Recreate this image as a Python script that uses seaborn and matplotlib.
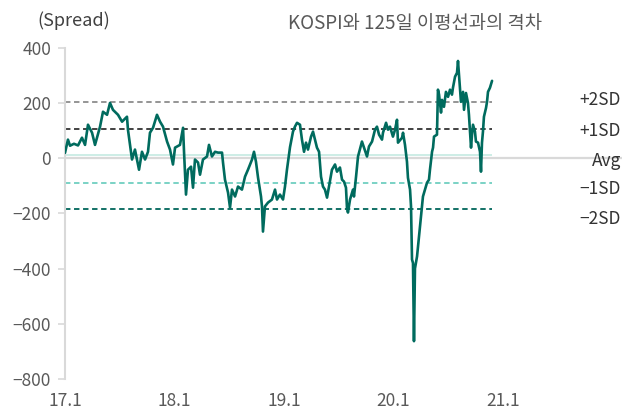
import matplotlib
matplotlib.use("Agg")
import matplotlib.pyplot as plt
import matplotlib.transforms as mtransforms
import seaborn as sns

sns.set_style("white")
plt.rcParams["font.family"] = ["Noto Sans CJK KR", "DejaVu Sans"]
plt.rcParams["axes.unicode_minus"] = True

# ---- data (decimal years, spread values) ----
years = [
    2017.000, 2017.027, 2017.046, 2017.082, 2017.119, 2017.155, 2017.183, 2017.210, 2017.247, 2017.274,
    2017.320, 2017.347, 2017.384, 2017.411, 2017.438, 2017.484, 2017.521, 2017.566, 2017.575, 2017.612,
    2017.639, 2017.676, 2017.703, 2017.731, 2017.758, 2017.776, 2017.804, 2017.840, 2017.868, 2017.895,
    2017.932, 2017.959, 2017.986,
    2018.005, 2018.050, 2018.078, 2018.087, 2018.105, 2018.123, 2018.151, 2018.169, 2018.187, 2018.215,
    2018.233, 2018.260, 2018.297, 2018.315, 2018.342, 2018.370, 2018.397, 2018.434, 2018.443, 2018.461,
    2018.489, 2018.507, 2018.525, 2018.553, 2018.580, 2018.616, 2018.644, 2018.671, 2018.708, 2018.726,
    2018.744, 2018.763, 2018.790, 2018.799, 2018.808, 2018.826, 2018.854, 2018.890, 2018.918, 2018.936,
    2018.963, 2018.991,
    2019.009, 2019.027, 2019.055, 2019.082, 2019.100, 2019.119, 2019.146, 2019.164, 2019.183, 2019.201,
    2019.219, 2019.247, 2019.265, 2019.283, 2019.301, 2019.320, 2019.338, 2019.356, 2019.374, 2019.393,
    2019.411, 2019.438, 2019.466, 2019.484, 2019.511, 2019.530, 2019.548, 2019.566, 2019.575, 2019.584,
    2019.603, 2019.630, 2019.639, 2019.658, 2019.676, 2019.712, 2019.731, 2019.758, 2019.776, 2019.804,
    2019.831, 2019.849, 2019.868, 2019.895, 2019.904, 2019.932, 2019.950, 2019.968, 2019.995,
    2020.014, 2020.032, 2020.041, 2020.078, 2020.087, 2020.105, 2020.123, 2020.132, 2020.151, 2020.160,
    2020.169, 2020.178, 2020.187, 2020.196, 2020.215, 2020.233, 2020.251, 2020.260, 2020.269, 2020.288,
    2020.306, 2020.324, 2020.333, 2020.352, 2020.361, 2020.370, 2020.397, 2020.406, 2020.416, 2020.434,
    2020.443, 2020.461, 2020.479, 2020.498, 2020.516, 2020.534, 2020.543, 2020.562, 2020.580, 2020.589,
    2020.598, 2020.616, 2020.635, 2020.644, 2020.662, 2020.680, 2020.689, 2020.708, 2020.717, 2020.726,
    2020.744, 2020.753, 2020.772, 2020.790, 2020.799, 2020.808, 2020.817, 2020.826, 2020.845, 2020.854,
    2020.863, 2020.881, 2020.900,
]
spread = [
    19, 67, 45, 52, 46, 74, 48, 121, 92, 48,
    114, 168, 157, 200, 175, 157, 132, 150, 103, -5,
    31, -42, 23, -5, 23, 92, 110, 157, 132, 114,
    60, 31, -23,
    38, 48, 110, 23, -132, -42, -31, -107, -5, -16,
    -60, -5, 6, 48, 6, 23, 20, 20, -16, -78,
    -125, -179, -114, -139, -103, -114, -67, -42, -5, 23,
    -13, -71, -139, -175, -266, -175, -161, -150, -114, -150,
    -132, -150,
    -103, -42, 40, 96, 114, 128, 121, 67, 23, 56,
    31, 78, 96, 67, 38, 23, -67, -103, -114, -143,
    -103, -42, -23, -49, -34, -78, -85, -107, -179, -197,
    -150, -114, -139, -67, 6, 60, 38, 6, 42, 60,
    103, 114, 85, 67, 92, 128, 103, 114, 78,
    103, 139, 56, 74, 92, 48, -13, -71, -114, -175,
    -367, -380, -663, -400, -356, -284, -211, -175, -139, -114,
    -89, -78, -42, 23, 38, 78, 85, 248, 230, 165,
    211, 186, 240, 222, 248, 230, 255, 295, 309, 352,
    302, 204, 240, 175, 236, 200, 157, 38, 85, 121,
    96, 60, 56, 23, -49, 56, 96, 150, 182, 204,
    240, 255, 280,
]

band_names = ["+2SD", "+1SD", "Avg", "\u22121SD", "\u22122SD"]
band_values = [205, 105, 12, -89, -183]

x_ticks = [2017, 2018, 2019, 2020, 2021]
x_tick_labels = ["17.1", "18.1", "19.1", "20.1", "21.1"]
y_ticks = [-800, -600, -400, -200, 0, 200, 400]

title_text = "KOSPI와 125일 이평선과의 격차"
unit_text = "(Spread)"

# ---- styles ----
line_color = "#006B5E"
band_styles = [
    dict(color="#8C8C8C", ls=(0, (3, 2)), lw=1.3),
    dict(color="#333333", ls=(0, (3, 2)), lw=1.3),
    dict(color="#CDEDE6", ls="-", lw=1.4),
    dict(color="#6FCFC0", ls=(0, (3, 2)), lw=1.3),
    dict(color="#00665A", ls=(0, (3, 2)), lw=1.3),
]
label_offsets_px = [2, -1.5, -6, -6, -10]

fig = plt.figure(figsize=(6.4, 4.11), dpi=100)
ax = fig.add_axes([65 / 640, 1 - 379 / 411, (622 - 65) / 640, (379 - 47.7) / 411])

# zero line
ax.axhline(0, color="#D9D9D9", lw=1.6, zorder=1)

# bands
for val, st in zip(band_values, band_styles):
    ax.hlines(val, years[0], years[-1], colors=st["color"], linestyles=st["ls"],
              linewidth=st["lw"], zorder=2)

sns.lineplot(x=years, y=spread, ax=ax, color=line_color, linewidth=1.9,
             sort=False, estimator=None, zorder=3)

ax.set_xlim(2017.0, 2017.0 + 557 / 109.5)
ax.set_ylim(-800, 400)
ax.set_xticks(x_ticks)
ax.set_xticklabels(x_tick_labels)
ax.set_yticks(y_ticks)
ax.set_xlabel("")
ax.set_ylabel("")

for s in ["top", "right", "bottom"]:
    ax.spines[s].set_visible(False)
ax.spines["left"].set_color("#D9D9D9")
ax.spines["left"].set_linewidth(1.5)

ax.tick_params(axis="y", which="both", left=True, length=5, width=1.2, color="#D9D9D9",
               labelsize=12.5, labelcolor="#595959", pad=5)
ax.tick_params(axis="x", which="both", bottom=False, length=0, labelsize=12.5,
               labelcolor="#595959", pad=9)

# band labels (right-aligned near right edge)
for name, val, off in zip(band_names, band_values, label_offsets_px):
    trans = mtransforms.blended_transform_factory(ax.transAxes, ax.transData)
    ax.annotate(name, xy=(0.9985, val), xycoords=trans,
                xytext=(0, off * 0.72), textcoords="offset points",
                ha="right", va="center", fontsize=12.5, color="#333333")

fig.text(37 / 640, 1 - 21 / 411, unit_text, ha="left", va="center",
         fontsize=13, color="#404040")
fig.text(415 / 640, 1 - 24 / 411, title_text, ha="center", va="center",
         fontsize=13.5, color="#595959")

fig.savefig("out.png", dpi=100)
